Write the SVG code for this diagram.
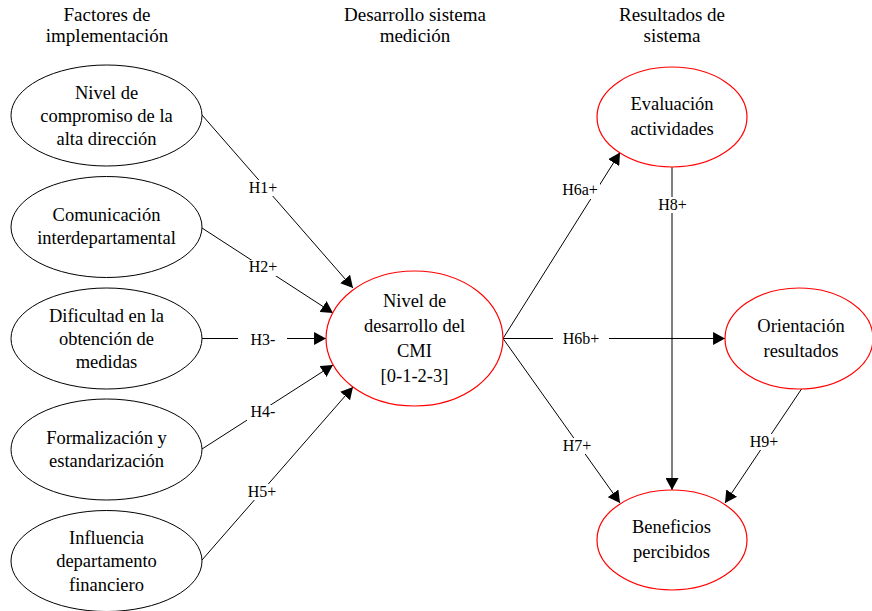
<svg xmlns="http://www.w3.org/2000/svg" width="872" height="611" viewBox="0 0 872 611">
  <style>
    text { font-family: "Liberation Serif", "Times New Roman", serif; fill: #000; text-anchor: middle; }
    .title { font-size: 19px; }
    .node { font-size: 18.5px; }
    .lbl { font-size: 16px; }
    .factor { fill: #fff; stroke: #000; stroke-width: 1; }
    .outcome { fill: #fff; stroke: #ff0000; stroke-width: 1.2; }
    .edge { stroke: #000; stroke-width: 1; fill: none; }
    .edge.arrow { marker-end: url(#head); }
    .lbg { fill: #fff; stroke: none; }
  </style>
  <defs>
    <marker id="head" markerUnits="userSpaceOnUse" markerWidth="12" markerHeight="13" viewBox="0 0 11 12" refX="11" refY="6" orient="auto">
      <path d="M0,0 L11,6 L0,12 z" fill="#000"/>
    </marker>
  </defs>

  <rect width="872" height="611" fill="#fff"/>

  <!-- column headings -->
  <g id="headings">
    <text class="title" x="107" y="21">Factores de</text>
    <text class="title" x="107" y="42">implementación</text>
    <text class="title" x="415" y="21">Desarrollo sistema</text>
    <text class="title" x="415" y="42">medición</text>
    <text class="title" x="672" y="21">Resultados de</text>
    <text class="title" x="672" y="42">sistema</text>
  </g>

  <!-- connectors -->
  <g id="connectors">
    <line class="edge arrow" x1="202" y1="115" x2="353" y2="288"/>
    <line class="edge arrow" x1="202" y1="228" x2="333" y2="313"/>
    <line class="edge arrow" x1="202" y1="338.5" x2="326" y2="338.5"/>
    <line class="edge arrow" x1="202" y1="449" x2="333" y2="365"/>
    <line class="edge arrow" x1="202" y1="560" x2="353" y2="387"/>
    <line class="edge arrow" x1="503" y1="338.5" x2="620" y2="152.5"/>
    <line class="edge arrow" x1="503" y1="338.5" x2="725" y2="338.5"/>
    <line class="edge arrow" x1="503" y1="338.5" x2="620" y2="503"/>
    <line class="edge arrow" x1="672" y1="167" x2="672" y2="490"/>
    <line class="edge arrow" x1="801.5" y1="389" x2="725" y2="503"/>

    <!-- hypothesis labels -->
    <g id="labels">
      <rect class="lbg" x="245" y="180" width="36" height="16"/>
      <text class="lbl" x="263" y="192.5">H1+</text>
      <rect class="lbg" x="245" y="260" width="36" height="16"/>
      <text class="lbl" x="263" y="272">H2+</text>
      <rect class="lbg" x="238" y="333" width="49" height="16"/>
      <text class="lbl" x="263" y="345">H3-</text>
      <rect class="lbg" x="247" y="405" width="32" height="16"/>
      <text class="lbl" x="263" y="417">H4-</text>
      <rect class="lbg" x="244" y="484" width="36" height="16"/>
      <text class="lbl" x="262" y="496.5">H5+</text>
      <rect class="lbg" x="560" y="183" width="40" height="16"/>
      <text class="lbl" x="580" y="195">H6a+</text>
      <rect class="lbg" x="553" y="331" width="56" height="16"/>
      <text class="lbl" x="581" y="343.5">H6b+</text>
      <rect class="lbg" x="559" y="438" width="36" height="16"/>
      <text class="lbl" x="577" y="450.5">H7+</text>
      <rect class="lbg" x="656" y="197" width="33" height="16"/>
      <text class="lbl" x="672.5" y="209.5">H8+</text>
      <rect class="lbg" x="746" y="434" width="36" height="16"/>
      <text class="lbl" x="764" y="446.5">H9+</text>
    </g>
  </g>

  <!-- implementation factors -->
  <g id="n-compromiso">
    <ellipse class="factor" cx="106.5" cy="115.5" rx="95.5" ry="50.5"/>
    <text class="node" x="106.5" y="99">Nivel de</text>
    <text class="node" x="106.5" y="122">compromiso de la</text>
    <text class="node" x="106.5" y="145">alta dirección</text>
  </g>
  <g id="n-comunicacion">
    <ellipse class="factor" cx="106.5" cy="227" rx="95.5" ry="50.5"/>
    <text class="node" x="106.5" y="221">Comunicación</text>
    <text class="node" x="106.5" y="244">interdepartamental</text>
  </g>
  <g id="n-dificultad">
    <ellipse class="factor" cx="106.5" cy="338.5" rx="95.5" ry="50.5"/>
    <text class="node" x="106.5" y="322">Dificultad en la</text>
    <text class="node" x="106.5" y="345">obtención de</text>
    <text class="node" x="106.5" y="368">medidas</text>
  </g>
  <g id="n-formalizacion">
    <ellipse class="factor" cx="106.5" cy="449.5" rx="95.5" ry="50.5"/>
    <text class="node" x="106.5" y="443.5">Formalización y</text>
    <text class="node" x="106.5" y="467">estandarización</text>
  </g>
  <g id="n-financiero">
    <ellipse class="factor" cx="106.5" cy="561" rx="95.5" ry="50.5"/>
    <text class="node" x="106.5" y="543.5">Influencia</text>
    <text class="node" x="106.5" y="567">departamento</text>
    <text class="node" x="106.5" y="590.5">financiero</text>
  </g>

  <!-- measurement system development -->
  <g id="n-cmi">
    <ellipse class="outcome" cx="414.5" cy="338.5" rx="88.5" ry="67.5"/>
    <text class="node" x="414.5" y="306.5">Nivel de</text>
    <text class="node" x="414.5" y="331.5">desarrollo del</text>
    <text class="node" x="414.5" y="357">CMI</text>
    <text class="node" x="414.5" y="382">[0-1-2-3]</text>
  </g>

  <!-- system outcomes -->
  <g id="n-evaluacion">
    <ellipse class="outcome" cx="672" cy="117" rx="75" ry="50"/>
    <text class="node" x="672" y="110">Evaluación</text>
    <text class="node" x="672" y="135">actividades</text>
  </g>
  <g id="n-orientacion">
    <ellipse class="outcome" cx="799" cy="338.5" rx="74" ry="50.5"/>
    <text class="node" x="801" y="332">Orientación</text>
    <text class="node" x="801" y="357">resultados</text>
  </g>
  <g id="n-beneficios">
    <ellipse class="outcome" cx="672" cy="540" rx="75" ry="50"/>
    <text class="node" x="671.5" y="532.5">Beneficios</text>
    <text class="node" x="671.5" y="558">percibidos</text>
  </g>
</svg>
